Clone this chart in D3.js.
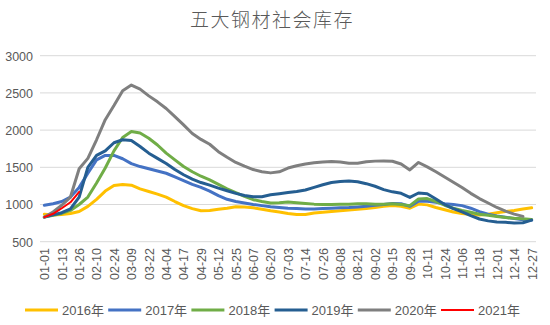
<!DOCTYPE html>
<html>
<head>
<meta charset="utf-8">
<script src="https://cdn.jsdelivr.net/npm/d3@7"></script>
<style>
  html, body { margin: 0; padding: 0; background: #fff; }
  svg { display: block; }
  text { fill: #595959; font-family: "Liberation Sans", Arial, "Noto Sans CJK SC", sans-serif; }
</style>
</head>
<body>
<div id="chart"></div>
<script>
// 周度日期（每隔一个显示标签）
const dates = [
  "01-01","01-07","01-13","01-19","01-26","02-03","02-10","02-17","02-24","03-02",
  "03-09","03-15","03-22","03-29","04-04","04-10","04-17","04-23","04-29","05-06",
  "05-12","05-19","05-25","05-31","06-07","06-13","06-20","06-27","07-03","07-09",
  "07-14","07-20","07-26","08-02","08-08","08-14","08-21","08-27","09-02","09-08",
  "09-15","09-21","09-28","10-04","10-11","10-18","10-24","10-30","11-06","11-12",
  "11-18","11-25","12-01","12-07","12-14","12-20","12-27"
];

const years = ["2016年", "2017年", "2018年", "2019年", "2020年", "2021年"];
const colors = ["#FFC000", "#4472C4", "#70AD47", "#255E91", "#7F7F7F", "#FF0000"];
const yTicks = [500, 1000, 1500, 2000, 2500, 3000];

const s2016 = [870,860,865,880,905,975,1070,1180,1255,1270,1260,1210,1175,1140,1100,1040,985,945,915,920,
  935,950,970,965,955,935,915,900,880,865,865,885,895,905,915,925,935,945,960,975,
  985,975,950,1005,995,960,930,900,880,865,860,870,890,905,920,940,955];
const s2017 = [990,1010,1040,1100,1230,1420,1600,1660,1660,1615,1550,1510,1480,1450,1420,1370,1320,1270,1230,1180,
  1120,1070,1040,1020,1000,985,970,960,950,945,940,940,945,950,955,960,968,978,990,1000,
  1015,1010,975,1045,1045,1030,1010,1000,985,950,905,870,845,830,810,795,790];
const s2018 = [830,855,880,920,1000,1100,1290,1490,1720,1900,1980,1960,1890,1800,1690,1600,1510,1440,1380,1330,
  1270,1210,1160,1110,1065,1040,1020,1025,1035,1025,1015,1005,1000,1000,1005,1005,1010,1010,1005,1005,
  1010,1000,985,1075,1080,1040,990,950,920,895,870,855,840,825,815,810,800];
const s2019 = [830,860,890,940,1100,1500,1660,1720,1830,1870,1860,1780,1690,1620,1550,1470,1400,1340,1295,1260,
  1220,1185,1150,1120,1105,1105,1130,1145,1160,1175,1195,1230,1265,1295,1310,1315,1305,1280,1245,1200,
  1170,1150,1095,1155,1145,1075,1000,945,900,850,805,780,765,760,750,755,790];
const s2020 = [830,900,990,1100,1480,1620,1870,2140,2330,2530,2605,2550,2460,2380,2290,2180,2070,1955,1875,1810,
  1710,1635,1565,1515,1470,1440,1425,1440,1490,1520,1545,1560,1572,1578,1570,1555,1555,1575,1583,1585,
  1582,1545,1465,1565,1505,1440,1370,1300,1228,1150,1080,1020,960,910,870,840,null];
const s2021 = [830,875,950,1030,1170];

const seriesValues = [s2016, s2017, s2018, s2019, s2020, s2021];
const lineWidths = [3, 3, 3, 3, 3, 2];

const width = 550, height = 325;
const svg = d3.select("#chart").append("svg")
  .attr("width", width)
  .attr("height", height);

// 标题
svg.append("text")
  .attr("x", 272)
  .attr("y", 27)
  .attr("text-anchor", "middle")
  .style("font-family", "'Noto Sans CJK SC', sans-serif")
  .style("font-size", "19px")
  .style("font-weight", 300)
  .style("letter-spacing", "1.5px")
  .text("五大钢材社会库存");

const x = d3.scalePoint()
  .domain(dates)
  .range([40, 536])
  .padding(0.5);

const y = d3.scaleLinear()
  .domain([500, 3000])
  .range([241.7, 55.7]);

// 网格线
svg.append("g")
  .selectAll("line")
  .data(yTicks)
  .enter().append("line")
  .attr("x1", 40)
  .attr("x2", 536)
  .attr("y1", d => y(d))
  .attr("y2", d => y(d))
  .attr("stroke", "#D9D9D9")
  .attr("stroke-width", 1);

// Y轴
const yAxis = svg.append("g")
  .attr("transform", "translate(33,0)")
  .call(d3.axisLeft(y).tickValues(yTicks).tickFormat(d3.format("d")).tickSize(0).tickPadding(0));
yAxis.select(".domain").remove();
yAxis.selectAll("text")
  .style("font-size", "12.5px")
  .attr("dy", "0.35em");

// X轴（竖排标签）
const xAxis = svg.append("g")
  .attr("transform", "translate(0,248)")
  .call(d3.axisBottom(x)
    .tickValues(dates.filter((d, i) => i % 2 === 0))
    .tickSize(0)
    .tickPadding(0));
xAxis.select(".domain").remove();
xAxis.selectAll(".tick text")
  .style("font-size", "12.5px")
  .attr("text-anchor", "end")
  .attr("transform", "rotate(-90)")
  .attr("x", 0)
  .attr("y", 0)
  .attr("dy", "0.35em");

// 折线
const line = d3.line()
  .defined(d => d.v != null)
  .x(d => x(d.date))
  .y(d => y(d.v));

seriesValues.forEach((vals, k) => {
  const pts = vals.map((v, i) => ({ date: dates[i], v: v }));
  svg.append("path")
    .datum(pts)
    .attr("fill", "none")
    .attr("stroke", colors[k])
    .attr("stroke-width", lineWidths[k])
    .attr("stroke-linejoin", "round")
    .attr("stroke-linecap", "round")
    .attr("d", line);
});

// 图例
const legend = svg.append("g").attr("transform", "translate(25,310)");
years.forEach((name, k) => {
  const g = legend.append("g").attr("transform", `translate(${k * 83.2},0)`);
  g.append("line")
    .attr("x1", 0).attr("x2", 33)
    .attr("y1", 0).attr("y2", 0)
    .attr("stroke", colors[k])
    .attr("stroke-width", lineWidths[k]);
  g.append("text")
    .attr("x", 37)
    .attr("y", 0)
    .attr("dy", "0.35em")
    .style("font-size", "13px")
    .text(name);
});
</script>
</body>
</html>
